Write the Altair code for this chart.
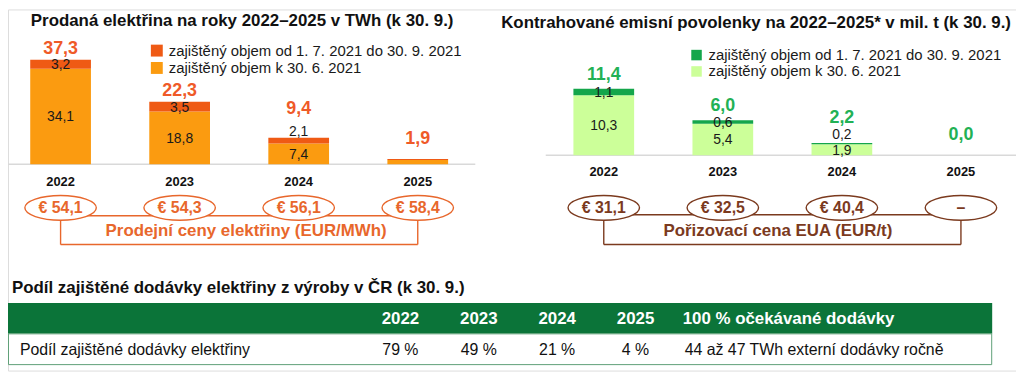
import altair as alt
import pandas as pd

# ---------------- data ----------------
years = ["2022", "2023", "2024", "2025"]

# Prodaná elektřina (TWh)
el_hedged_jun = [34.1, 18.8, 7.4, 1.5]   # zajištěný objem k 30. 6. 2021
el_hedged_sep = [3.2, 3.5, 2.1, 0.4]     # zajištěný objem od 1. 7. do 30. 9. 2021
el_total = [37.3, 22.3, 9.4, 1.9]
el_price = [54.1, 54.3, 56.1, 58.4]      # EUR/MWh

# Emisní povolenky (mil. t)
eua_hedged_jun = [10.3, 5.4, 1.9, 0.0]
eua_hedged_sep = [1.1, 0.6, 0.2, 0.0]
eua_total = [11.4, 6.0, 2.2, 0.0]
eua_price = [31.1, 32.5, 40.4, None]     # EUR/t

legend_labels = ["zajištěný objem od 1. 7. 2021 do 30. 9. 2021",
                 "zajištěný objem k 30. 6. 2021"]

title_el = "Prodaná elektřina na roky 2022–2025 v TWh (k 30. 9.)"
title_eua = "Kontrahované emisní povolenky na 2022–2025* v mil. t (k 30. 9.)"
price_el_label = "Prodejní ceny elektřiny (EUR/MWh)"
price_eua_label = "Pořizovací cena EUA (EUR/t)"

table_title = "Podíl zajištěné dodávky elektřiny z výroby v ČR (k 30. 9.)"
table_row_label = "Podíl zajištěné dodávky elektřiny"
table_share = [79, 49, 21, 4]
table_extra_head = "100 % očekávané dodávky"
table_extra_value = "44 až 47 TWh externí dodávky ročně"

FONT = "Liberation Sans"
ELLIPSE = ("M-1,0 C-1,-0.1917 -0.5523,-0.347 0,-0.347 "
           "C0.5523,-0.347 1,-0.1917 1,0 "
           "C1,0.1917 0.5523,0.347 0,0.347 "
           "C-0.5523,0.347 -1,0.1917 -1,0 Z")


def fmt(v):
    if v is None:
        return "–"
    return f"{v:.1f}".replace(".", ",")


def panel(base, add, total, price, colors, total_color, ring_color,
          xr, ydom, yr, add_above, add_above_dy, normal_dy, lift_dy,
          base_x0, base_x1, year_y, ring_y, link_y, bracket_y,
          price_label, price_label_x, legend_x, legend_ys, legend_size,
          title, title_x, title_y):
    layers = []
    xs = alt.Scale(domain=years, range=xr, paddingInner=0.49, paddingOuter=0.245)
    ys = alt.Scale(domain=ydom, range=yr)
    X = alt.X("year:N", scale=xs, axis=None)
    px_per_unit = (yr[0] - yr[1]) / (ydom[1] - ydom[0])

    # title
    layers.append(alt.Chart(pd.DataFrame({"t": [title]})).mark_text(
        fontSize=17, fontWeight="bold", font=FONT, color="#111111",
        baseline="middle", align="center").encode(
        x=alt.value(title_x), y=alt.value(title_y), text="t:N"))

    # baseline
    layers.append(alt.Chart(pd.DataFrame({"v": [0]})).mark_rule(
        color="#D9D9D9", strokeWidth=1.5).encode(
        x=alt.value(base_x0), x2=alt.value(base_x1),
        y=alt.Y("v:Q", scale=ys, axis=None)))

    # bars
    rows = []
    for i, yv in enumerate(years):
        if base[i] > 0:
            rows.append(dict(year=yv, seg="jun", y0=0.0, y1=base[i]))
        if add[i] > 0:
            rows.append(dict(year=yv, seg="sep", y0=base[i], y1=base[i] + add[i]))
    layers.append(alt.Chart(pd.DataFrame(rows)).mark_bar().encode(
        x=X,
        y=alt.Y("y0:Q", scale=ys, axis=None), y2="y1:Q",
        color=alt.Color("seg:N", scale=alt.Scale(domain=["sep", "jun"], range=colors),
                        legend=None)))

    # segment labels and totals
    seg_rows = []
    tot_rows = []
    for i, yv in enumerate(years):
        tiny = total[i] * px_per_unit < 10
        if not tiny:
            seg_rows.append(dict(year=yv, txt=fmt(base[i]), ypos=base[i] / 2, kind="in"))
            if yv in add_above:
                seg_rows.append(dict(year=yv, txt=fmt(add[i]), ypos=base[i] + add[i], kind="above"))
            else:
                seg_rows.append(dict(year=yv, txt=fmt(add[i]), ypos=base[i] + add[i] / 2, kind="in"))
        kind = "tiny" if tiny else ("lift" if yv in add_above else "normal")
        tot_rows.append(dict(year=yv, txt=fmt(total[i]), ypos=total[i], kind=kind))
    seg_df = pd.DataFrame(seg_rows)
    tot_df = pd.DataFrame(tot_rows)
    for kind, dy in [("in", 1), ("above", add_above_dy)]:
        layers.append(alt.Chart(seg_df).transform_filter(
            alt.datum.kind == kind).mark_text(
            fontSize=14, font=FONT, color="#1A1A1A", baseline="middle", dy=dy).encode(
            x=X, y=alt.Y("ypos:Q", scale=ys, axis=None), text="txt:N"))
    for kind, dy in [("normal", normal_dy), ("lift", lift_dy), ("tiny", -20)]:
        layers.append(alt.Chart(tot_df).transform_filter(
            alt.datum.kind == kind).mark_text(
            fontSize=18, fontWeight="bold", font=FONT, color=total_color,
            baseline="middle", dy=dy).encode(
            x=X, y=alt.Y("ypos:Q", scale=ys, axis=None), text="txt:N"))

    # year labels
    ydf = pd.DataFrame({"year": years})
    layers.append(alt.Chart(ydf).mark_text(
        fontSize=13, fontWeight="bold", font=FONT, color="#111111", baseline="middle").encode(
        x=X, y=alt.value(year_y), text="year:N"))

    # bracket / connecting lines
    layers.append(alt.Chart(ydf).mark_line(color=ring_color, strokeWidth=1.4).encode(
        x=X, y=alt.value(link_y)))
    layers.append(alt.Chart(ydf).mark_line(color=ring_color, strokeWidth=1.4).encode(
        x=X, y=alt.value(bracket_y)))
    ends = pd.DataFrame({"year": [years[0], years[-1]]})
    layers.append(alt.Chart(ends).mark_rule(color=ring_color, strokeWidth=1.4).encode(
        x=X, y=alt.value(ring_y + 11), y2=alt.value(bracket_y)))

    # price ellipses
    pdf = pd.DataFrame({"year": years,
                        "ptxt": [("€ " + fmt(p)) if p is not None else "–" for p in price]})
    layers.append(alt.Chart(pdf).mark_point(
        shape=ELLIPSE, size=5184, fill="white", stroke=ring_color, strokeWidth=1.4,
        opacity=1, fillOpacity=1).encode(x=X, y=alt.value(ring_y)))
    layers.append(alt.Chart(pdf).mark_text(
        fontSize=16, fontWeight="bold", font=FONT, color=ring_color, baseline="middle").encode(
        x=X, y=alt.value(ring_y), text="ptxt:N"))
    layers.append(alt.Chart(pd.DataFrame({"t": [price_label]})).mark_text(
        fontSize=17, fontWeight="bold", font=FONT, color=ring_color, baseline="middle").encode(
        x=alt.value(price_label_x), y=alt.value(ring_y + 23), text="t:N"))

    # legend
    ldf = pd.DataFrame({"label": legend_labels})
    ly = alt.Y("label:N", scale=alt.Scale(type="point", domain=legend_labels,
                                          range=legend_ys, padding=0), axis=None)
    layers.append(alt.Chart(ldf).mark_point(
        shape="square", filled=True, size=legend_size, opacity=1).encode(
        x=alt.value(legend_x), y=ly,
        color=alt.Color("label:N", scale=alt.Scale(domain=legend_labels, range=colors),
                        legend=None)))
    layers.append(alt.Chart(ldf).mark_text(
        fontSize=15, font=FONT, color="#1A1A1A", align="left", baseline="middle").encode(
        x=alt.value(legend_x + 12), y=ly, text="label:N"))
    return layers


left = panel(el_hedged_jun, el_hedged_sep, el_total, el_price,
             colors=["#EF5A14", "#FB9B10"], total_color="#EF5A28", ring_color="#E8672C",
             xr=[-7, 473], ydom=[0, 50], yr=[156, 15], add_above={"2024"},
             add_above_dy=-6, normal_dy=-11, lift_dy=-29, base_x0=0, base_x1=471,
             year_y=174, ring_y=200, link_y=208, bracket_y=237,
             price_label=price_el_label, price_label_x=240,
             legend_x=150, legend_ys=[41.5, 59], legend_size=144,
             title=title_el, title_x=236, title_y=12)

right = panel(eua_hedged_jun, eua_hedged_sep, eua_total, eua_price,
              colors=["#14A64B", "#CCFF99"], total_color="#22B155", ring_color="#7B3A1E",
              xr=[540.5, 1020.5], ydom=[0, 20], yr=[147, 29.4], add_above={"2024"},
              add_above_dy=-8, normal_dy=-14, lift_dy=-25, base_x0=542, base_x1=1016,
              year_y=164, ring_y=200, link_y=207, bracket_y=237,
              price_label=price_eua_label, price_label_x=776,
              legend_x=694, legend_ys=[46, 62.5], legend_size=112,
              title=title_eua, title_x=754, title_y=14)

# ---------------- table ----------------
tx = alt.X("year:N", scale=alt.Scale(domain=years, range=[356, 672],
                                      paddingInner=0, paddingOuter=0), axis=None)
table = []
table.append(alt.Chart(pd.DataFrame({"t": [table_title]})).mark_text(
    fontSize=17, fontWeight="bold", font=FONT, color="#111111", align="left",
    baseline="middle").encode(x=alt.value(4), y=alt.value(281), text="t:N"))
table.append(alt.Chart(pd.DataFrame({"t": [""]})).mark_rect(
    fill="#0B7439").encode(x=alt.value(0), x2=alt.value(992),
                           y=alt.value(296), y2=alt.value(327)))
table.append(alt.Chart(pd.DataFrame({"t": [""]})).mark_rect(
    fill="white", stroke="#5E9F76", strokeWidth=1).encode(
    x=alt.value(0.5), x2=alt.value(991.5), y=alt.value(327), y2=alt.value(358)))
tdf = pd.DataFrame({"year": years, "share": [f"{s} %" for s in table_share]})
table.append(alt.Chart(tdf).mark_text(
    fontSize=17, fontWeight="bold", font=FONT, color="white", baseline="middle").encode(
    x=tx, y=alt.value(312), text="year:N"))
table.append(alt.Chart(pd.DataFrame({"t": [table_extra_head]})).mark_text(
    fontSize=17, fontWeight="bold", font=FONT, color="white", align="left",
    baseline="middle").encode(x=alt.value(680), y=alt.value(312), text="t:N"))
table.append(alt.Chart(tdf).mark_text(
    fontSize=16, font=FONT, color="#111111", baseline="middle").encode(
    x=tx, y=alt.value(343.5), text="share:N"))
table.append(alt.Chart(pd.DataFrame({"t": [table_row_label]})).mark_text(
    fontSize=16, font=FONT, color="#111111", align="left", baseline="middle").encode(
    x=alt.value(12), y=alt.value(343.5), text="t:N"))
table.append(alt.Chart(pd.DataFrame({"t": [table_extra_value]})).mark_text(
    fontSize=16, font=FONT, color="#111111", align="left", baseline="middle").encode(
    x=alt.value(682), y=alt.value(343.5), text="t:N"))

chart = alt.layer(*(left + right + table)).resolve_scale(
    x="independent", y="independent", color="independent"
).properties(
    width=1016, height=364, autosize=alt.AutoSizeParams(type="none"), padding=0,
    background="white"
).configure_view(stroke=None).configure(font=FONT)

chart.save("out.html", embed_options={"renderer": "svg", "actions": False})
